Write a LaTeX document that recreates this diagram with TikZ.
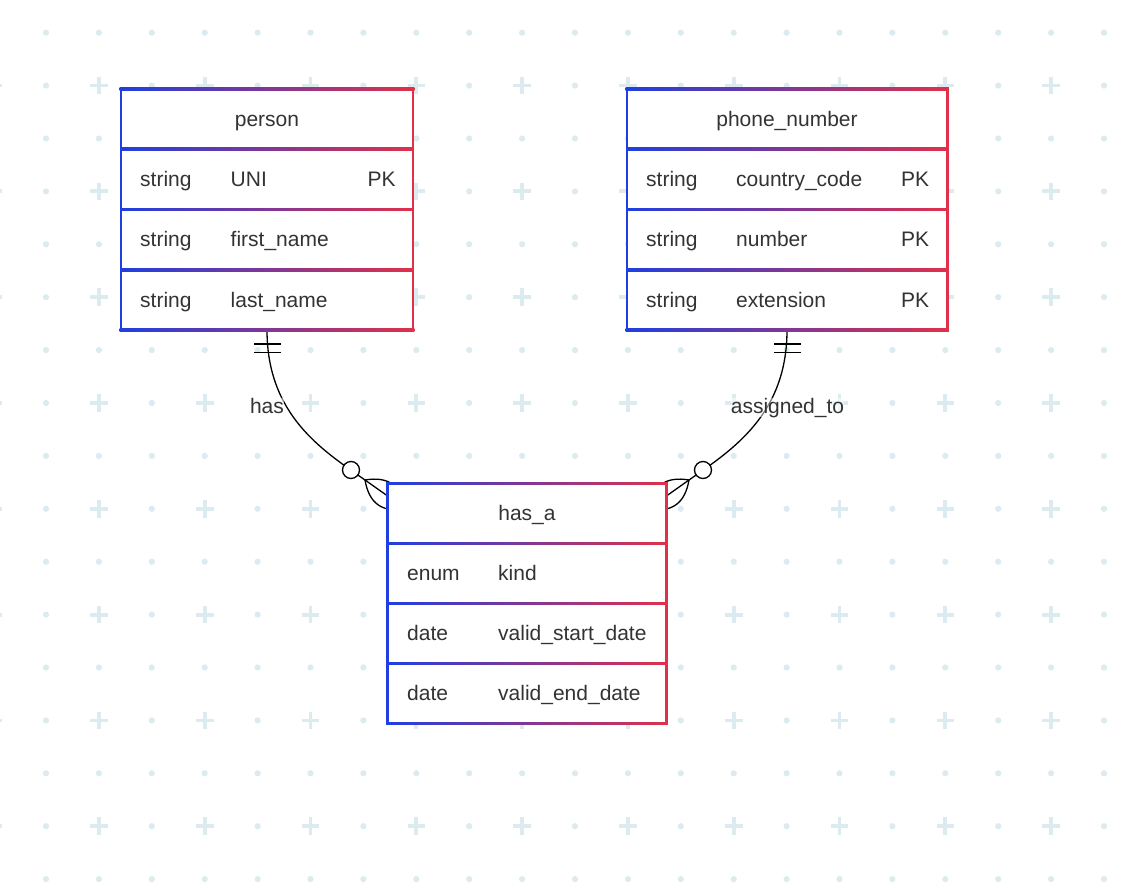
\documentclass[tikz,border=0pt]{standalone}
\usepackage{fontspec}
\setmainfont{Liberation Sans}
\definecolor{gridc}{HTML}{DBEBF0}
\definecolor{eblue}{HTML}{1F3FE0}
\definecolor{ered}{HTML}{E0304A}
\definecolor{txt}{HTML}{333333}
\begin{document}
\begin{tikzpicture}[x=1pt,y=-1pt,
  lbl/.style={text=txt, font=\fontsize{21}{25}\selectfont, inner sep=0pt},
  conn/.style={black, line width=1.3pt},
  hbar/.style={left color=eblue, right color=ered},
  entity/.style={inner sep=0pt, outer sep=0pt}]
\useasboundingbox (0,0) rectangle (1136,888);
\fill[white] (0,0) rectangle (1136,888);
% background grid
\foreach \i in {-1,...,20}{\foreach \j in {0,...,16}{%
  \ifodd\i\relax
    \ifodd\j\relax
      \draw[gridc, line width=3.8pt, shift={({46+52.9*\i},{32.7+52.9*\j})}] (-8.8,0)--(8.8,0) (0,-8.8)--(0,8.8);
    \else
      \fill[gridc] ({46+52.9*\i},{32.7+52.9*\j}) circle (3.1);
    \fi
  \else
    \fill[gridc] ({46+52.9*\i},{32.7+52.9*\j}) circle (3.1);
  \fi}}
% entity frames (invisible nodes for naming)
\node[entity, minimum width=292pt, minimum height=241pt] (person) at (267,209.5) {};
\node[entity, minimum width=320.6pt, minimum height=241pt] (phone) at (787,209.5) {};
\node[entity, minimum width=279pt, minimum height=240pt] (hasa) at (527,603.5) {};
% key points
\coordinate (F1) at (365,480);
\coordinate (T1) at (406,509);
\coordinate (C1) at (351,470);
\coordinate (F2) at (689,480);
\coordinate (T2) at (648,509);
\coordinate (C2) at (703,470);
% connectors
\draw[conn] (person.south) .. controls (267,415) and (322,450) .. (F1) -- (T1);
\draw[conn] (F1) .. controls (388.3,476) and (402,485.7) .. (T1);
\draw[conn] (F1) .. controls (369,503.3) and (382,513) .. (T1);
\draw[conn] (254,344) -- (281,344) (254,352.7) -- (281,352.7);
\draw[conn, fill=white] (C1) circle (8.5);
\draw[conn] (phone.south) .. controls (787,415) and (732,450) .. (F2) -- (T2);
\draw[conn] (F2) .. controls (665.7,476) and (652,485.7) .. (T2);
\draw[conn] (F2) .. controls (685,503.3) and (672,513) .. (T2);
\draw[conn] (774,344) -- (801,344) (774,352.7) -- (801,352.7);
\draw[conn, fill=white] (C2) circle (8.5);
% person box
\fill[white] (121,89) rectangle (413,330);
\foreach \y in {89,330}
  \shade[hbar] (119.7,\y-1.3) rectangle (414.3,\y+1.3);
\foreach \y in {149.3,209.5,269.7}
  \shade[hbar] (122,\y-1.3) rectangle (412,\y+1.3);
\fill[eblue] (119.7,87.7) rectangle (122.3,331.3);
\fill[ered] (411.7,87.7) rectangle (414.3,331.3);
% phone box
\fill[white] (627,89) rectangle (947.6,330);
\foreach \y in {89,330}
  \shade[hbar] (625.7,\y-1.3) rectangle (948.9,\y+1.3);
\foreach \y in {149.3,209.5,269.7}
  \shade[hbar] (628,\y-1.3) rectangle (946.6,\y+1.3);
\fill[eblue] (625.7,87.7) rectangle (628.3,331.3);
\fill[ered] (946.3,87.7) rectangle (948.9,331.3);
% has_a box
\fill[white] (387.5,483.5) rectangle (666.5,723.5);
\foreach \y in {483.5,723.5}
  \shade[hbar] (386.2,\y-1.3) rectangle (667.8,\y+1.3);
\foreach \y in {543.5,603.5,663.5}
  \shade[hbar] (388.5,\y-1.3) rectangle (665.5,\y+1.3);
\fill[eblue] (386.2,482.2) rectangle (388.8,724.8);
\fill[ered] (665.2,482.2) rectangle (667.8,724.8);
% person texts
\node[lbl, anchor=base] (pt) at (267,126.5) {person};
\node[lbl, anchor=base west] (p1a) at (140,186.5) {string};
\node[lbl, anchor=base west] (p1b) at (230.5,186.5) {UNI};
\node[lbl, anchor=base west] (p1c) at (367.5,186.5) {PK};
\node[lbl, anchor=base west] (p2a) at (140,246.5) {string};
\node[lbl, anchor=base west] (p2b) at (230.5,246.5) {first\_name};
\node[lbl, anchor=base west] (p3a) at (140,307) {string};
\node[lbl, anchor=base west] (p3b) at (230.5,307) {last\_name};
% phone texts
\node[lbl, anchor=base] (nt) at (787,126.5) {phone\_number};
\node[lbl, anchor=base west] (n1a) at (646,186.5) {string};
\node[lbl, anchor=base west] (n1b) at (736,186.5) {country\_code};
\node[lbl, anchor=base west] (n1c) at (901,186.5) {PK};
\node[lbl, anchor=base west] (n2a) at (646,246.5) {string};
\node[lbl, anchor=base west] (n2b) at (736,246.5) {number};
\node[lbl, anchor=base west] (n2c) at (901,246.5) {PK};
\node[lbl, anchor=base west] (n3a) at (646,307) {string};
\node[lbl, anchor=base west] (n3b) at (736,307) {extension};
\node[lbl, anchor=base west] (n3c) at (901,307) {PK};
% has_a texts
\node[lbl, anchor=base] (ht) at (527,520.5) {has\_a};
\node[lbl, anchor=base west] (h1a) at (407,580.5) {enum};
\node[lbl, anchor=base west] (h1b) at (498,580.5) {kind};
\node[lbl, anchor=base west] (h2a) at (407,640.5) {date};
\node[lbl, anchor=base west] (h2b) at (498,640.5) {valid\_start\_date};
\node[lbl, anchor=base west] (h3a) at (407,700.5) {date};
\node[lbl, anchor=base west] (h3b) at (498,700.5) {valid\_end\_date};
% relationship labels
\node[lbl, anchor=base, fill=white, fill opacity=0.5, text opacity=1] (lhas) at (267,413) {has};
\node[lbl, anchor=base, fill=white, fill opacity=0.5, text opacity=1] (lass) at (787.5,413) {assigned\_to};
\end{tikzpicture}
\end{document}
